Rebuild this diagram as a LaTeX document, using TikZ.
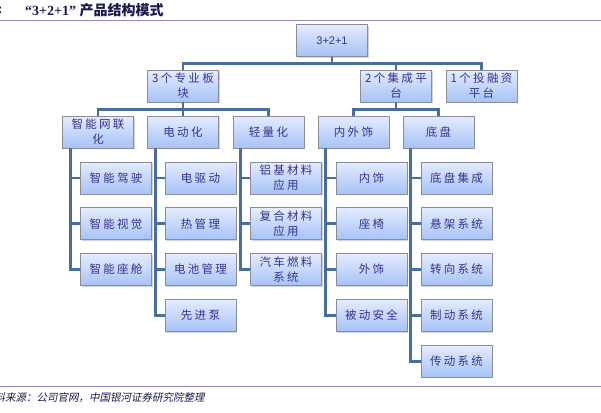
\documentclass[tikz,border=0pt]{standalone}
\usepackage{fontspec}
\usetikzlibrary{shadows}
\setmainfont{Liberation Serif}
\newfontfamily\cjk[LetterSpace=20]{Noto Sans CJK SC}
\newfontfamily\cjktitle{Noto Sans CJK SC}
\newfontfamily\cjkfoot[FakeSlant=0.2]{Noto Sans CJK SC}
\newfontfamily\rootfont{Liberation Sans}
\definecolor{myLink}{RGB}{74,110,156}
\definecolor{myBorder}{RGB}{140,140,150}
\definecolor{myTop}{RGB}{228,236,255}
\definecolor{myBottom}{RGB}{166,194,246}
\definecolor{myText}{RGB}{58,50,140}
\definecolor{myRule}{RGB}{150,135,205}
\definecolor{myTitle}{RGB}{25,25,75}

\begin{document}
\begin{tikzpicture}[%
	x=1pt, y=-1pt,
	box/.style={
		draw=myBorder, line width=0.7pt,
		top color=myTop, bottom color=myBottom,
		drop shadow={shadow xshift=1.2pt, shadow yshift=-1.2pt, opacity=0.35},
		minimum width=71pt, minimum height=32pt, inner sep=1pt,
		align=center, text=myText,
		font=\cjk\fontsize{11.5}{15}\selectfont,
	},
	link/.style={draw=myLink, line width=2.8pt},
	]
	\useasboundingbox (0,0) rectangle (601,412);
	
	% title and rules
	\node[anchor=east, font=\bfseries\fontsize{14}{16}\selectfont, text=myTitle] (fig) at (6,10) {:};
	\node[anchor=west, font=\bfseries\fontsize{14}{16}\selectfont, text=myTitle, inner sep=0pt] (title) at (25,10) {“3+2+1”\ {\cjktitle\bfseries 产品结构模式}};
	\draw[myRule, line width=0.9pt] (0,20) -- (601,20);
	\draw[myRule, line width=0.9pt] (0,386) -- (601,386);
	
	% top levels
	\node[box, font=\rootfont\fontsize{11}{13}\selectfont] (root) at (332,40.5) {3+2+1};
	\node[box] (plates) at (183,86) {3个专业板\\块};
	\node[box] (integ) at (396,86) {2个集成平\\台};
	\node[box] (invest) at (481.5,86) {1个投融资\\平台};
	\foreach \n in {plates,integ,invest}{
		\draw[link] (root.south) -- ++(0,6.5) -| (\n.north);
	}
	
	\node[box] (smart) at (98,132) {智能网联\\化};
	\node[box] (elec) at (183,132) {电动化};
	\node[box] (light) at (268.5,132) {轻量化};
	\node[box] (trim) at (353.5,132) {内外饰};
	\node[box] (chassis) at (438.5,132) {底盘};
	\foreach \n in {smart,elec,light}{
		\draw[link] (plates.south) -- ++(0,7) -| (\n.north);
	}
	\foreach \n in {trim,chassis}{
		\draw[link] (integ.south) -- ++(0,7) -| (\n.north);
	}
	
	% children
	\foreach \txt [count=\i] in {智能驾驶,智能视觉,智能座舱}{
		\node[box] (smart\i) at (116,{178+45.8*(\i-1)}) {\txt};
		\draw[link] ([xshift=8pt]smart.south west) |- (smart\i.west);
	}
	\foreach \txt [count=\i] in {电驱动,热管理,电池管理,先进泵}{
		\node[box] (elec\i) at (200.5,{178+45.8*(\i-1)}) {\txt};
		\draw[link] ([xshift=8pt]elec.south west) |- (elec\i.west);
	}
	\foreach \txt [count=\i] in {{铝基材料\\应用},{复合材料\\应用},{汽车燃料\\系统}}{
		\node[box] (light\i) at (286,{178+45.8*(\i-1)}) {\txt};
		\draw[link] ([xshift=8pt]light.south west) |- (light\i.west);
	}
	\foreach \txt [count=\i] in {内饰,座椅,外饰,被动安全}{
		\node[box] (trim\i) at (371.5,{178+45.8*(\i-1)}) {\txt};
		\draw[link] ([xshift=8pt]trim.south west) |- (trim\i.west);
	}
	\foreach \txt [count=\i] in {底盘集成,悬架系统,转向系统,制动系统,传动系统}{
		\node[box] (chassis\i) at (456.5,{178+45.8*(\i-1)}) {\txt};
		\draw[link] ([xshift=8pt]chassis.south west) |- (chassis\i.west);
	}
	
	% source line
	\node[anchor=west, inner sep=0pt, text=myTitle, font=\cjkfoot\fontsize{10.5}{12}\selectfont] (source) at (-16,398) {资料来源：公司官网，中国银河证券研究院整理};
\end{tikzpicture}
\end{document}
